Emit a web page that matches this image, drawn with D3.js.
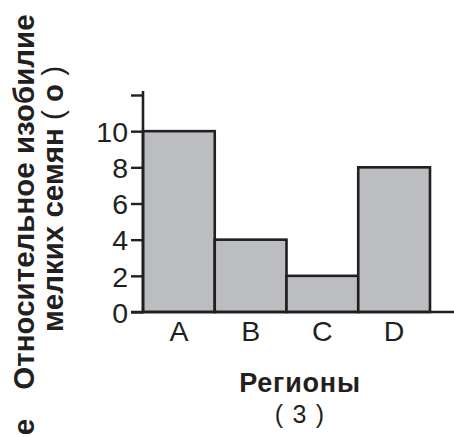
<!DOCTYPE html>
<html>
<head>
<meta charset="utf-8">
<script src="https://cdn.jsdelivr.net/npm/d3@7"></script>
<style>
  html, body { margin: 0; padding: 0; background: #fff; }
  svg { display: block; }
  text { font-family: "Liberation Sans", Arial, Helvetica, sans-serif; fill: #231f20; }
</style>
</head>
<body>
<svg id="chart" width="454" height="437"></svg>
<script>
const categories = ["A", "B", "C", "D"];
const values = [10, 4, 2, 8];
const yTicks = [0, 2, 4, 6, 8, 10, 12];
const yTickLabels = ["0", "2", "4", "6", "8", "10", ""];
const xTitle = "Регионы";
const xSub = "( 3 )";
const yTitle1 = "Относительное изобилие";
const yTitle2a = "мелких семян ";
const yTitle2b = "( ";
const yTitle2c = "о";
const yTitle2d = " )";
const cornerLabel = "е";

const ink = "#231f20";
const svg = d3.select("#chart");

const x = d3.scaleBand().domain(categories).range([143, 430]).padding(0);
const y = d3.scaleLinear().domain([0, 12]).range([312, 95]);

// bars
svg.append("g").selectAll("rect")
  .data(values)
  .join("rect")
  .attr("x", (d, i) => x(categories[i]))
  .attr("y", d => y(d))
  .attr("width", x.bandwidth())
  .attr("height", d => y(0) - y(d))
  .attr("fill", "#bcbdc0")
  .attr("stroke", ink)
  .attr("stroke-width", 2.6);

// y axis
const yAxis = d3.axisLeft(y)
  .tickValues(yTicks)
  .tickFormat((d, i) => yTickLabels[i])
  .tickSize(12)
  .tickSizeOuter(0)
  .tickPadding(3);
const gy = svg.append("g").attr("transform", "translate(143,0)").call(yAxis);
gy.select(".domain").remove();
gy.append("line").attr("x1", 0).attr("x2", 0).attr("y1", 91).attr("y2", y(0) + 1.3)
  .attr("stroke", ink).attr("stroke-width", 2.6);
gy.selectAll(".tick line").attr("stroke", ink).attr("stroke-width", 2.4);
gy.selectAll(".tick text")
  .style("font-family", '"Liberation Sans", Arial, sans-serif')
  .style("font-size", "28.5px")
  .attr("fill", ink)
  .attr("dy", "0.36em");

// x axis
const xAxis = d3.axisBottom(x).tickSize(0).tickPadding(9);
const gx = svg.append("g").attr("transform", `translate(0,${y(0)})`).call(xAxis);
gx.select(".domain").remove();
gx.append("line").attr("x1", 131).attr("x2", 454).attr("y1", 0).attr("y2", 0)
  .attr("stroke", ink).attr("stroke-width", 2.6);
gx.selectAll(".tick text")
  .style("font-family", '"Liberation Sans", Arial, sans-serif')
  .style("font-size", "28.5px")
  .attr("fill", ink);

// x titles
svg.append("text").attr("x", 300).attr("y", 392)
  .attr("text-anchor", "middle").style("font-size", "27px").style("font-weight", "bold")
  .style("letter-spacing", "0.8px")
  .text(xTitle);
svg.append("text").attr("x", 300).attr("y", 423)
  .attr("text-anchor", "middle").style("font-size", "25px")
  .style("letter-spacing", "1.2px")
  .text(xSub);

// y titles
svg.append("text").attr("transform", "translate(33.5,202) rotate(-90)")
  .attr("text-anchor", "middle").style("font-size", "29.5px").style("font-weight", "bold")
  .text(yTitle1);
const t2 = svg.append("text").attr("transform", "translate(62.5,199) rotate(-90)")
  .attr("text-anchor", "middle").style("font-size", "29.5px").style("font-weight", "bold")
  .style("white-space", "pre");
t2.append("tspan").text(yTitle2a);
t2.append("tspan").style("font-weight", "normal").text(yTitle2b);
t2.append("tspan").text(yTitle2c);
t2.append("tspan").style("font-weight", "normal").text(yTitle2d);

svg.append("text").attr("transform", "translate(33.5,427) rotate(-90)")
  .attr("text-anchor", "middle").style("font-size", "29.5px").style("font-weight", "bold")
  .text(cornerLabel);
</script>
</body>
</html>
